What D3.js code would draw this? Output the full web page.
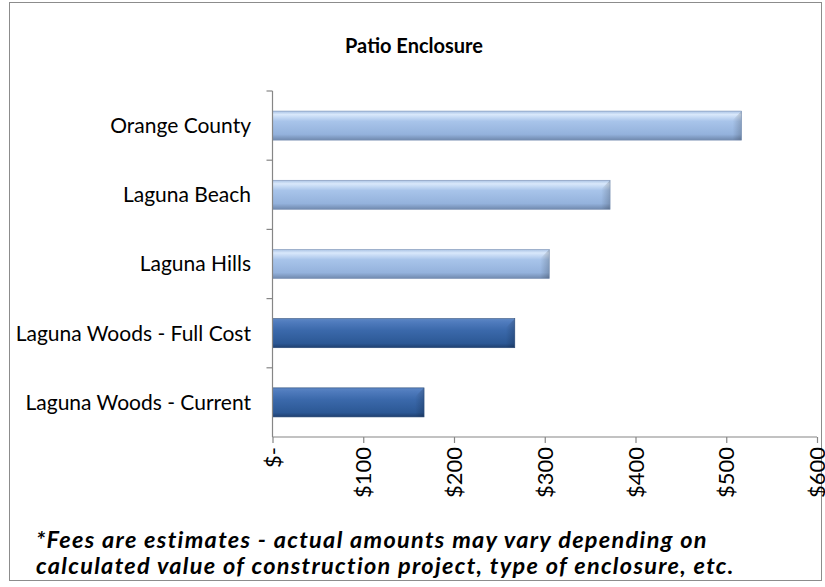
<!DOCTYPE html>
<html>
<head>
<meta charset="utf-8">
<script src="https://cdn.jsdelivr.net/npm/d3@7"></script>
<style>
  body { margin: 0; background: #fff; }
  text { font-family: Lato, "Open Sans", sans-serif; fill: #000; }
</style>
</head>
<body>
<script>
var categories = ["Orange County", "Laguna Beach", "Laguna Hills", "Laguna Woods - Full Cost", "Laguna Woods - Current"];
var fees = [517, 372, 305, 267, 167];
var groups = ["other", "other", "other", "woods", "woods"];
var tickValues = [0, 100, 200, 300, 400, 500, 600];
var tickLabels = ["$-", "$100", "$200", "$300", "$400", "$500", "$600"];
var title = "Patio Enclosure";
var notes = ["*Fees are estimates - actual amounts may vary depending on",
  "calculated value of construction project, type of enclosure, etc."];

var width = 825, height = 587;
var plot = { left: 272.5, right: 817, top: 91, bottom: 437 };

var svg = d3.select("body").append("svg")
  .attr("width", width)
  .attr("height", height);

// gradients for the bevelled bars
var defs = svg.append("defs");
var grads = {
  other: [["0%", "#a9c2e4"], ["12%", "#d9e8fb"], ["35%", "#a8c4ea"], ["80%", "#94b2dc"], ["100%", "#7089ae"]],
  woods: [["0%", "#5d87c4"], ["12%", "#4f7bbd"], ["40%", "#3b69ab"], ["85%", "#2c5895"], ["100%", "#1f3f6f"]]
};
Object.keys(grads).forEach(function (k) {
  var g = defs.append("linearGradient").attr("id", "g-" + k)
    .attr("x1", 0).attr("y1", 0).attr("x2", 0).attr("y2", 1);
  grads[k].forEach(function (s) {
    g.append("stop").attr("offset", s[0]).attr("stop-color", s[1]);
  });
});
// end shading (bevel look)
var endG = defs.append("linearGradient").attr("id", "g-end")
  .attr("x1", 0).attr("y1", 0).attr("x2", 1).attr("y2", 0);
endG.append("stop").attr("offset", "0%").attr("stop-color", "#000").attr("stop-opacity", 0);
endG.append("stop").attr("offset", "100%").attr("stop-color", "#000").attr("stop-opacity", 0.18);

// outer frame
svg.append("rect")
  .attr("x", 9.5).attr("y", 2.5)
  .attr("width", 812).attr("height", 578)
  .attr("fill", "#fff")
  .attr("stroke", "#8c8c8c")
  .attr("stroke-width", 1);

var x = d3.scaleLinear().domain([0, 600]).range([plot.left, plot.right]);
var y = d3.scaleBand().domain(categories).range([plot.top, plot.bottom]).paddingInner(0.58).paddingOuter(0.29);
var band = d3.scaleBand().domain(categories).range([plot.top, plot.bottom]);

var data = categories.map(function (c, i) { return { name: c, value: fees[i], group: groups[i] }; });

svg.append("text")
  .attr("x", 414).attr("y", 53)
  .attr("text-anchor", "middle")
  .style("font-size", "20px")
  .style("font-weight", "bold")
  .text(title);

// bars
var bars = svg.selectAll(".bar").data(data).enter().append("g").attr("class", "bar");
bars.append("rect")
  .attr("x", x(0))
  .attr("y", function (d) { return y(d.name); })
  .attr("width", function (d) { return x(d.value) - x(0); })
  .attr("height", y.bandwidth())
  .attr("fill", function (d) { return "url(#g-" + d.group + ")"; });
bars.append("path")
  .attr("d", function (d) {
    var x1 = x(d.value), y0 = y(d.name), h = y.bandwidth();
    return "M" + (x1 - 9) + "," + (y0 + 9) + "L" + x1 + "," + y0 + "V" + (y0 + h) + "H" + (x1 - 9) + "Z";
  })
  .attr("fill", "url(#g-end)");
bars.append("rect")
  .attr("x", x(0))
  .attr("y", function (d) { return y(d.name); })
  .attr("width", function (d) { return x(d.value) - x(0); })
  .attr("height", y.bandwidth())
  .attr("fill", "none")
  .attr("stroke", function (d) { return d.group === "woods" ? "#2a4a78" : "#7d93b5"; })
  .attr("stroke-width", 0.6);

// category labels
svg.selectAll(".cat").data(data).enter().append("text")
  .attr("class", "cat")
  .attr("x", 251)
  .attr("y", function (d) { return band(d.name) + band.bandwidth() / 2; })
  .attr("dy", "0.35em")
  .attr("text-anchor", "end")
  .style("font-size", "21px")
  .text(function (d) { return d.name; });

// y axis: line + ticks at band edges
var yAxis = svg.append("g").attr("stroke", "#868686").attr("stroke-width", 1.2);
yAxis.append("line")
  .attr("x1", plot.left).attr("x2", plot.left)
  .attr("y1", plot.top).attr("y2", plot.bottom);
var edges = categories.map(function (c) { return band(c); });
yAxis.selectAll(".yt").data(edges).enter().append("line")
  .attr("x1", plot.left - 6).attr("x2", plot.left)
  .attr("y1", function (d) { return d; }).attr("y2", function (d) { return d; });

// x axis
var xAxis = d3.axisBottom(x)
  .tickValues(tickValues)
  .tickSize(6)
  .tickFormat(function (d, i) { return tickLabels[i]; });
var gx = svg.append("g")
  .attr("transform", "translate(0," + plot.bottom + ")")
  .call(xAxis);
gx.select(".domain").attr("stroke", "#868686").attr("stroke-width", 1.2).attr("d", "M" + plot.left + ",0H" + plot.right);
gx.selectAll(".tick line").attr("stroke", "#868686").attr("stroke-width", 1.2);
gx.selectAll(".tick text")
  .attr("transform", "rotate(-90)")
  .attr("x", -10).attr("y", 0)
  .attr("dy", "0.35em")
  .attr("text-anchor", "end")
  .style("font-size", "22px")
  .style("font-family", "Lato, 'Open Sans', sans-serif");

// footnote
svg.selectAll(".note").data(notes).enter().append("text")
  .attr("class", "note")
  .attr("x", 36)
  .attr("y", function (d, i) { return 548 + i * 26; })
  .style("font-size", "23.5px")
  .style("letter-spacing", "1.3px")
  .style("font-weight", "bold")
  .style("font-style", "italic")
  .text(function (d) { return d; });
</script>
</body>
</html>
